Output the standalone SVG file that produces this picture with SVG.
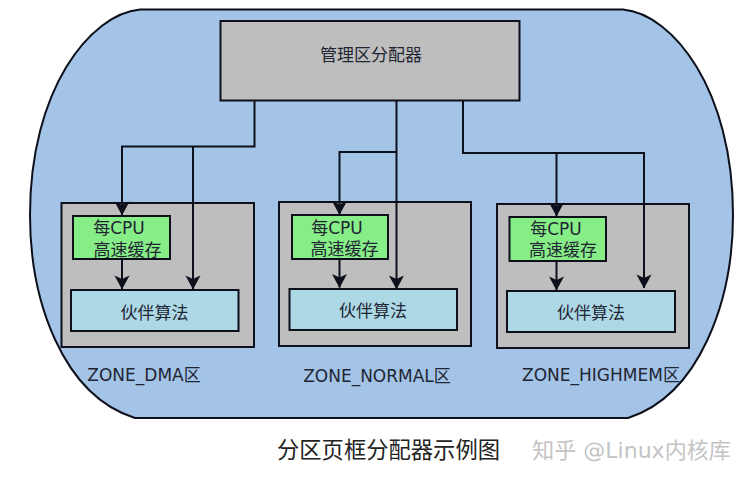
<svg xmlns="http://www.w3.org/2000/svg" width="748" height="482" viewBox="0 0 748 482">
<defs>
<style>
text{font-family:"DejaVu Sans","Noto Sans CJK SC",sans-serif;fill:#1f2533;text-anchor:middle;font-size:17px}
.b{stroke:#0d0f1a;stroke-width:2}
.zone{fill:#bebebe}
.cache{fill:#87ee87}
.buddy{fill:#add8e6}
.c{fill:none;stroke:#0d0f1a;stroke-width:2}
</style>
<marker id="d" markerUnits="userSpaceOnUse" markerWidth="16" markerHeight="15" refX="8" refY="14" viewBox="0 0 16 15"><path d="M0.500 0.500 L8 4 L15.500 0.500 L8 14.500Z" fill="#0d0f1a"/></marker>
</defs>
<rect width="748" height="482" fill="#fff"/>
<g id="outer"><path d="M140 9.500 H623 C673 14 733 90 733 215 C733 300 700 395 628 418 H135 C62 395 30 300 30 215 C30 90 90 14 140 9.500Z" fill="#a3c4e7" stroke="#0d0f1a" stroke-width="2"/></g>
<g id="manager"><rect class="b" x="220.500" y="21" width="299" height="79.500" fill="#bebebe"/><text x="371" y="61">管理区分配器</text></g>
<g id="zone-dma">
<rect class="b zone" x="61.500" y="203" width="192.500" height="144"/>
<rect class="b cache" x="73" y="216" width="97" height="43"/>
<text x="119" y="234">每CPU</text><text x="127.500" y="256">高速缓存</text>
<rect class="b buddy" x="71" y="290" width="167.500" height="41"/>
<text x="154.500" y="319">伙伴算法</text>
<text x="144" y="381">ZONE_DMA区</text>
</g>
<g id="zone-normal">
<rect class="b zone" x="279" y="202" width="192" height="144"/>
<rect class="b cache" x="292" y="215" width="96" height="44"/>
<text x="337" y="234">每CPU</text><text x="344.500" y="255">高速缓存</text>
<rect class="b buddy" x="289.500" y="289" width="167.500" height="41"/>
<text x="373" y="317">伙伴算法</text>
<text x="377" y="382">ZONE_NORMAL区</text>
</g>
<g id="zone-highmem">
<rect class="b zone" x="497" y="204" width="192" height="144"/>
<rect class="b cache" x="509.500" y="217" width="96.500" height="44"/>
<text x="556" y="235">每CPU</text><text x="563" y="256">高速缓存</text>
<rect class="b buddy" x="507" y="291" width="168" height="41"/>
<text x="591" y="319">伙伴算法</text>
<text x="601" y="381">ZONE_HIGHMEM区</text>
</g>
<g id="connectors">
<path class="c" marker-end="url(#d)" d="M254.500 100 V146.500 H122 V215"/>
<path class="c" marker-end="url(#d)" d="M193 146.500 V289"/>
<path class="c" marker-end="url(#d)" d="M122 259 V289"/>
<path class="c" marker-end="url(#d)" d="M396.500 100 V289"/>
<path class="c" marker-end="url(#d)" d="M396.500 152 H339.500 V214.500"/>
<path class="c" marker-end="url(#d)" d="M339.500 259 V287.500"/>
<path class="c" marker-end="url(#d)" d="M463 100 V153 H644 V288"/>
<path class="c" marker-end="url(#d)" d="M556.500 153 V216"/>
<path class="c" marker-end="url(#d)" d="M556.500 261 V290"/>
</g>
<text x="388.500" y="458" style="font-size:22.300px;fill:#222">分区页框分配器示例图</text>
<text x="631.500" y="458" style="font-size:22px;fill:#c4c4c4">知乎 @Linux内核库</text>
</svg>
